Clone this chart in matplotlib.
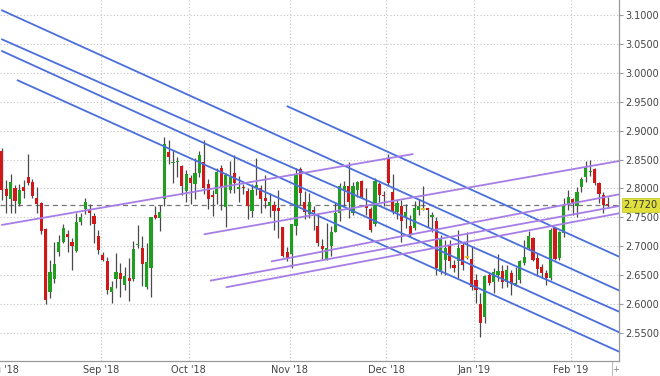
import numpy as np
import matplotlib
matplotlib.use('Agg')
import matplotlib.pyplot as plt

# daily OHLC, Aug '18 -> mid Feb '19 (one entry per trading day)
opens = [2.865, 2.799, 2.781, 2.801, 2.773, 2.803, 2.819, 2.811, 2.783, 2.775,
         2.730, 2.621, 2.643, 2.691, 2.707, 2.721, 2.708, 2.692, 2.742, 2.764,
         2.763, 2.752, 2.718, 2.685, 2.675, 2.622, 2.644, 2.654, 2.633, 2.645,
         2.644, 2.702, 2.698, 2.630, 2.663, 2.754, 2.749, 2.782, 2.863, 2.844,
         2.845, 2.839, 2.796, 2.818, 2.807, 2.826, 2.845, 2.808, 2.788, 2.790,
         2.835, 2.768, 2.797, 2.827, 2.799, 2.803, 2.796, 2.761, 2.800, 2.800,
         2.783, 2.770, 2.772, 2.767, 2.734, 2.690, 2.687, 2.736, 2.834, 2.777,
         2.756, 2.763, 2.736, 2.700, 2.678, 2.700, 2.725, 2.758, 2.796, 2.804,
         2.758, 2.797, 2.813, 2.772, 2.765, 2.738, 2.808, 2.789, 2.851, 2.794,
         2.759, 2.770, 2.750, 2.736, 2.731, 2.763, 2.765, 2.767, 2.751, 2.743,
         2.656, 2.676, 2.701, 2.668, 2.674, 2.702, 2.681, 2.679, 2.642, 2.600,
         2.578, 2.651, 2.639, 2.651, 2.658, 2.639, 2.654, 2.632, 2.642, 2.672,
         2.697, 2.714, 2.680, 2.664, 2.654, 2.645, 2.731, 2.680, 2.723, 2.772,
         2.781, 2.769, 2.803, 2.819, 2.828, 2.833, 2.809, 2.789, 2.774]
highs = [2.870, 2.815, 2.825, 2.806, 2.808, 2.815, 2.859, 2.817, 2.802, 2.776,
         2.731, 2.677, 2.707, 2.719, 2.739, 2.728, 2.714, 2.757, 2.757, 2.784,
         2.773, 2.758, 2.728, 2.691, 2.682, 2.641, 2.688, 2.671, 2.664, 2.680,
         2.709, 2.737, 2.718, 2.706, 2.751, 2.770, 2.771, 2.888, 2.884, 2.866,
         2.855, 2.841, 2.832, 2.823, 2.852, 2.865, 2.884, 2.817, 2.797, 2.835,
         2.841, 2.826, 2.848, 2.857, 2.821, 2.807, 2.801, 2.807, 2.852, 2.806,
         2.824, 2.793, 2.778, 2.797, 2.734, 2.699, 2.739, 2.835, 2.837, 2.796,
         2.793, 2.770, 2.756, 2.712, 2.741, 2.736, 2.775, 2.809, 2.813, 2.846,
         2.811, 2.813, 2.815, 2.800, 2.768, 2.818, 2.811, 2.795, 2.859, 2.825,
         2.780, 2.780, 2.774, 2.754, 2.779, 2.781, 2.804, 2.767, 2.760, 2.751,
         2.720, 2.711, 2.711, 2.676, 2.728, 2.708, 2.725, 2.700, 2.653, 2.619,
         2.651, 2.656, 2.662, 2.687, 2.668, 2.668, 2.660, 2.665, 2.677, 2.711,
         2.727, 2.716, 2.688, 2.670, 2.660, 2.731, 2.734, 2.726, 2.783, 2.797,
         2.783, 2.803, 2.819, 2.848, 2.849, 2.835, 2.812, 2.794, 2.785]
lows = [2.780, 2.757, 2.758, 2.758, 2.770, 2.783, 2.806, 2.783, 2.757, 2.722,
        2.600, 2.611, 2.636, 2.683, 2.705, 2.690, 2.660, 2.690, 2.737, 2.756,
        2.737, 2.705, 2.687, 2.675, 2.618, 2.602, 2.629, 2.613, 2.625, 2.605,
        2.640, 2.698, 2.632, 2.626, 2.613, 2.747, 2.727, 2.770, 2.843, 2.809,
        2.820, 2.789, 2.777, 2.773, 2.781, 2.820, 2.791, 2.764, 2.753, 2.773,
        2.763, 2.734, 2.793, 2.793, 2.777, 2.790, 2.748, 2.751, 2.788, 2.758,
        2.766, 2.750, 2.729, 2.714, 2.682, 2.674, 2.662, 2.719, 2.772, 2.747,
        2.749, 2.729, 2.700, 2.679, 2.677, 2.683, 2.724, 2.744, 2.770, 2.749,
        2.755, 2.785, 2.784, 2.755, 2.725, 2.735, 2.776, 2.770, 2.804, 2.756,
        2.747, 2.708, 2.731, 2.717, 2.728, 2.754, 2.763, 2.734, 2.724, 2.651,
        2.653, 2.651, 2.662, 2.656, 2.645, 2.659, 2.678, 2.625, 2.602, 2.543,
        2.567, 2.633, 2.620, 2.641, 2.628, 2.630, 2.616, 2.631, 2.636, 2.668,
        2.694, 2.674, 2.648, 2.645, 2.634, 2.642, 2.677, 2.677, 2.716, 2.763,
        2.754, 2.750, 2.794, 2.812, 2.822, 2.806, 2.775, 2.757, 2.766]
closes = [2.797, 2.787, 2.812, 2.779, 2.798, 2.795, 2.810, 2.787, 2.774, 2.727,
          2.607, 2.655, 2.669, 2.707, 2.732, 2.716, 2.700, 2.742, 2.751, 2.777,
          2.757, 2.739, 2.693, 2.676, 2.624, 2.630, 2.655, 2.643, 2.648, 2.641,
          2.696, 2.704, 2.669, 2.673, 2.750, 2.749, 2.759, 2.876, 2.855, 2.845,
          2.848, 2.804, 2.825, 2.810, 2.827, 2.857, 2.800, 2.782, 2.785, 2.829,
          2.803, 2.823, 2.820, 2.809, 2.803, 2.800, 2.769, 2.798, 2.806, 2.781,
          2.779, 2.777, 2.761, 2.761, 2.684, 2.679, 2.739, 2.824, 2.792, 2.760,
          2.776, 2.760, 2.706, 2.696, 2.698, 2.724, 2.757, 2.805, 2.805, 2.776,
          2.804, 2.812, 2.786, 2.767, 2.729, 2.813, 2.789, 2.787, 2.810, 2.759,
          2.775, 2.743, 2.760, 2.721, 2.766, 2.770, 2.765, 2.763, 2.755, 2.662,
          2.714, 2.698, 2.674, 2.662, 2.698, 2.668, 2.681, 2.630, 2.625, 2.567,
          2.648, 2.637, 2.656, 2.657, 2.638, 2.660, 2.635, 2.636, 2.674, 2.681,
          2.718, 2.676, 2.661, 2.654, 2.645, 2.729, 2.678, 2.724, 2.769, 2.785,
          2.773, 2.794, 2.817, 2.836, 2.831, 2.809, 2.790, 2.771, 2.772]

last_price = 2.7720

# month labels and the trading-day index where each month starts
month_labels = ["Aug '18", "Sep '18", "Oct '18", "Nov '18", "Dec '18", "Jan '19", "Feb '19"]
month_start = [0, 23, 43, 66, 88, 108, 130]

y_ticks = [2.55, 2.60, 2.65, 2.70, 2.75, 2.80, 2.85, 2.90, 2.95, 3.00, 3.05, 3.10]

# drawn trend lines: (start index, start value, end index, end value)
blue_lines = [(-0.11, 3.1081, 140.6, 2.6238),
              (-0.11, 3.0580, 140.6, 2.5872),
              (-0.11, 3.0378, 140.6, 2.5517),
              (3.45, 2.9873, 140.6, 2.5182),
              (64.9, 2.9424, 140.6, 2.6822)]
purple_lines = [(-0.11, 2.7369, 93.75, 2.8595),
                (46.0, 2.7208, 140.6, 2.8474),
                (61.3, 2.6739, 140.6, 2.7899),
                (47.4, 2.6407, 140.6, 2.7697),
                (51.0, 2.6293, 140.6, 2.7571)]

RED = '#d01818'
GREEN = '#1f9e1f'
BLUE = '#4a6fdc'
PURPLE = '#a77de6'
GRID = '#c4c4c4'
TEXT = '#444444'
FONT_SIZE = 7


def draw_candles(ax):
    x = np.arange(len(opens))
    o = np.array(opens)
    c = np.array(closes)
    up = c > o
    down = c < o
    flat = c == o
    ax.vlines(x, lows, highs, color='#4a4a4a', lw=0.9, zorder=3)
    bottom = np.minimum(o, c)
    height = np.maximum(np.abs(c - o), 0.0015)
    ax.bar(x[up], height[up], bottom=bottom[up], width=0.72, color=GREEN, zorder=4)
    ax.bar(x[down], height[down], bottom=bottom[down], width=0.72, color=RED, zorder=4)
    ax.hlines(o[flat], x[flat] - 0.45, x[flat] + 0.45, color='#e0c020', lw=1.4, zorder=4)


def draw_trend_lines(ax):
    for x0, y0, x1, y1 in blue_lines:
        ax.plot([x0, x1], [y0, y1], color=BLUE, lw=1.3, zorder=5, solid_capstyle='butt')
    for x0, y0, x1, y1 in purple_lines:
        ax.plot([x0, x1], [y0, y1], color=PURPLE, lw=1.3, zorder=5, solid_capstyle='butt')


fig = plt.figure(figsize=(6.6, 3.76), dpi=100)
ax = fig.add_axes([0, 15 / 376, 619 / 660, 361 / 376])

ax.set_xlim(-0.11, 140.57)
ax.set_ylim(2.5021, 3.1254)

# grid
for v in y_ticks:
    ax.axhline(v, color=GRID, lw=0.8, ls=(0, (1, 2)), zorder=1)
for m in month_start[1:]:
    ax.axvline(m - 0.4, color=GRID, lw=0.8, ls=(0, (1, 2)), zorder=1)

draw_candles(ax)
draw_trend_lines(ax)

ax.axhline(last_price, color='#777777', lw=0.9, ls=(0, (4, 3)), zorder=2)

for s in ['left', 'top']:
    ax.spines[s].set_visible(False)
for s in ['right', 'bottom']:
    ax.spines[s].set_color('#999999')
    ax.spines[s].set_linewidth(0.9)

ax.yaxis.tick_right()
ax.set_yticks(y_ticks)
ax.set_yticklabels(['%.4f' % v for v in y_ticks])
ax.tick_params(axis='y', colors='#999999', labelcolor=TEXT, labelsize=FONT_SIZE,
               length=3, width=0.8, pad=1.5)

ax.set_xticks([m - 0.4 for m in month_start])
ax.set_xticklabels(month_labels)
ax.tick_params(axis='x', length=0, labelcolor=TEXT, labelsize=FONT_SIZE, pad=3)

# last price tag on the axis
ax.annotate('%.4f' % last_price, xy=(1.0, last_price), xycoords=('axes fraction', 'data'),
            xytext=(3.3, 0), textcoords='offset points', ha='left', va='center',
            fontsize=FONT_SIZE, color='#333333',
            bbox=dict(boxstyle='square,pad=0.2', fc='#dfe03c', ec='#c8c830', lw=0.6))

# small separator and marker in the bottom right corner
fig.add_artist(plt.Line2D([612 / 660, 612 / 660], [0, 14 / 376], color='#bbbbbb', lw=0.8))
fig.text(616 / 660, 6 / 376, '+', fontsize=6, color='#888888', ha='center', va='center')

fig.savefig('out.png', dpi=100)
